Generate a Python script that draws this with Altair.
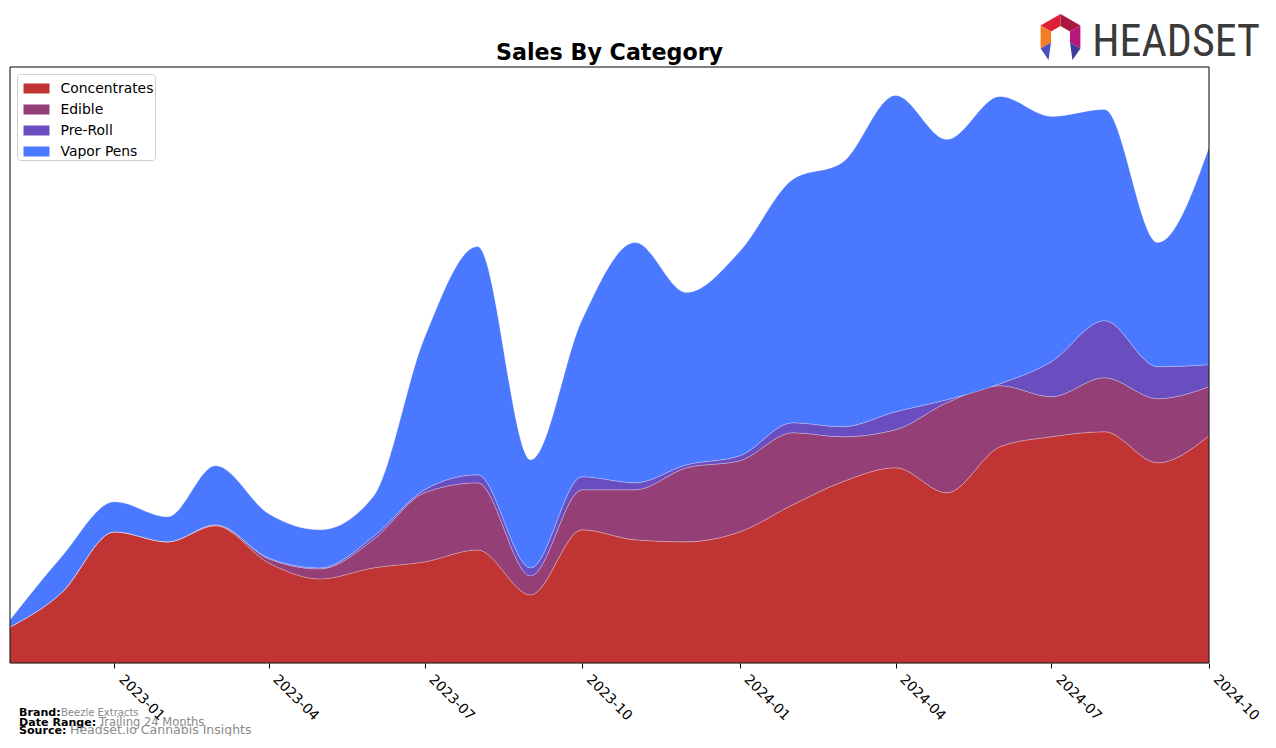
import altair as alt
import pandas as pd

# ---------------- data ----------------
months = [
    "2022-11", "2022-12", "2023-01", "2023-02", "2023-03", "2023-04",
    "2023-05", "2023-06", "2023-07", "2023-08", "2023-09", "2023-10",
    "2023-11", "2023-12", "2024-01", "2024-02", "2024-03", "2024-04",
    "2024-05", "2024-06", "2024-07", "2024-08", "2024-09", "2024-10",
]
categories = ["Concentrates", "Edible", "Pre-Roll", "Vapor Pens"]
concentrates = [36, 70, 131, 121, 137, 100, 84, 95, 101, 113, 68, 133,
                123, 121, 131, 158, 181, 195, 170, 216, 226, 231, 200, 227]
edible = [0, 0, 0, 0, 1, 4, 10, 28, 69, 67, 19, 40,
          50, 74, 71, 72, 45, 38, 90, 61, 40, 54, 64, 49]
pre_roll = [0, 0, 0, 0, 0, 1, 1, 3, 3, 8, 8, 13,
            7, 3, 5, 10, 10, 18, 3, 2, 35, 57, 32, 22]
vapor_pens = [7, 36, 30, 25, 59, 44, 38, 40, 152, 228, 108, 157,
              240, 172, 204, 243, 264, 316, 260, 287, 245, 211, 124, 217]
tick_months = ["2023-01", "2023-04", "2023-07", "2023-10",
               "2024-01", "2024-04", "2024-07", "2024-10"]
colors = ["#c13434", "#953f77", "#6a4ec0", "#4a78ff"]

title_text = "Sales By Category"
footer_labels = ["Brand:", "Date Range:", "Source:"]
footer_values = ["Beezle Extracts", "Trailing 24 Months", "Headset.io Cannabis Insights"]
logo_text = "HEADSET"

# ---------------- table ----------------
series = [concentrates, edible, pre_roll, vapor_pens]
rows = []
for ci, (cat, vals) in enumerate(zip(categories, series)):
    for m, v in zip(months, vals):
        rows.append({"date": m + "-01T00:00:00", "category": cat, "value": v, "order": ci})
df = pd.DataFrame(rows)

totals = [sum(s[i] for s in series) for i in range(len(months))]
ymax = max(totals) * 1.05

W, H = 1199, 596


def dt(s):
    y, m = s.split("-")
    return alt.DateTime(year=int(y), month=int(m), date=1)


area = alt.Chart(df).mark_area(
    interpolate="monotone", opacity=1, stroke="white", strokeOpacity=0.35, strokeWidth=0.7
).encode(
    x=alt.X(
        "date:T",
        scale=alt.Scale(domain=[dt(months[0]), dt(months[-1])], nice=False),
        axis=alt.Axis(
            values=[dt(t) for t in tick_months], format="%Y-%m", title=None,
            labelAngle=45, labelAlign="left", labelBaseline="top",
            labelFont="DejaVu Sans", labelFontSize=13.9, labelColor="black",
            labelPadding=4, labelOffset=11, labelOverlap=False, labelFlush=False,
            tickColor="black", tickSize=5, tickWidth=1, domain=False, grid=False, zindex=1,
        ),
    ),
    y=alt.Y("value:Q", stack="zero",
            scale=alt.Scale(domain=[0, ymax], nice=False, zero=True), axis=None),
    color=alt.Color(
        "category:N",
        scale=alt.Scale(domain=categories, range=colors),
        legend=alt.Legend(
            title=None, orient="none", legendX=7, legendY=7, direction="vertical",
            symbolType="M-1,-0.385H1V0.385H-1Z", symbolSize=676, symbolStrokeWidth=0,
            symbolOpacity=1, symbolOffset=5, labelFont="DejaVu Sans", labelFontSize=13.9,
            labelColor="black", labelOffset=11, rowPadding=1, padding=1.5,
            fillColor="white", strokeColor="#d0d0d0", cornerRadius=3, labelLimit=300,
        ),
    ),
    order=alt.Order("order:Q", sort="ascending"),
)

title = alt.Chart(pd.DataFrame({"t": [title_text]})).mark_text(
    font="DejaVu Sans", fontSize=22.2, fontWeight="bold", color="black",
    align="center", baseline="alphabetic",
).encode(x=alt.value(W / 2), y=alt.value(-7), text="t:N")

footer_layers = []
label_x = [9, 9, 9]
value_x = [51, 89, 60]
row_y = [649, 659, 667]
value_sizes = [10, 11.5, 12.5]
for i in range(3):
    footer_layers.append(
        alt.Chart(pd.DataFrame({"t": [footer_labels[i]]})).mark_text(
            font="DejaVu Sans", fontSize=11.1, fontWeight="bold", color="black",
            align="left", baseline="alphabetic",
        ).encode(x=alt.value(label_x[i]), y=alt.value(row_y[i]), text="t:N")
    )
    footer_layers.append(
        alt.Chart(pd.DataFrame({"t": [footer_values[i]]})).mark_text(
            font="DejaVu Sans", fontSize=value_sizes[i], color="#8a8a8a",
            align="left", baseline="alphabetic",
        ).encode(x=alt.value(value_x[i]), y=alt.value(row_y[i]), text="t:N")
    )

logo = alt.Chart(pd.DataFrame({"t": [logo_text]})).mark_text(
    font="Liberation Sans Narrow, Roboto Condensed, DejaVu Sans Condensed, Roboto",
    fontSize=44, color="#3a3a3a", align="right", baseline="alphabetic",
).encode(x=alt.value(1250), y=alt.value(-11), text="t:N")

icon_paths = [
    ("M-19.9,-11.5L0,-23L0,-11L-9.5,-5.5Z", "#dc2038"),
    ("M0,-23L19.9,-11.5L9.5,-5.5L0,-11Z", "#a8183f"),
    ("M19.9,-11.5L19.9,11.5L9.5,5.5L9.5,-5.5Z", "#b8177c"),
    ("M-19.9,-11.5L-9.5,-5.5L-9.5,5.5L-19.9,11.5Z", "#f47d22"),
    ("M-19.9,11.5L-9.5,5.5L-12,23Z", "#4b4fc0"),
    ("M19.9,11.5L9.5,5.5L12,23Z", "#3a3d9e"),
]
icon_layers = []
for p, c in icon_paths:
    icon_layers.append(
        alt.Chart(pd.DataFrame({"k": [0]})).mark_point(
            shape=p, size=4, filled=True, color=c, opacity=1, strokeWidth=0
        ).encode(x=alt.value(1050.5), y=alt.value(-30))
    )

frame = alt.Chart(pd.DataFrame({"k": [0]})).mark_rect(
    fillOpacity=0, stroke="black", strokeWidth=1
).encode(x=alt.value(0), x2=alt.value(W), y=alt.value(0), y2=alt.value(H))

chart = alt.layer(area, frame, title, logo, *icon_layers, *footer_layers).properties(
    width=W, height=H,
    autosize=alt.AutoSizeParams(type="none"),
    padding={"left": 2, "top": 59, "right": 55, "bottom": 73},
).configure_view(stroke=None)

chart.save("out.html", embed_options={"renderer": "svg", "actions": False})
